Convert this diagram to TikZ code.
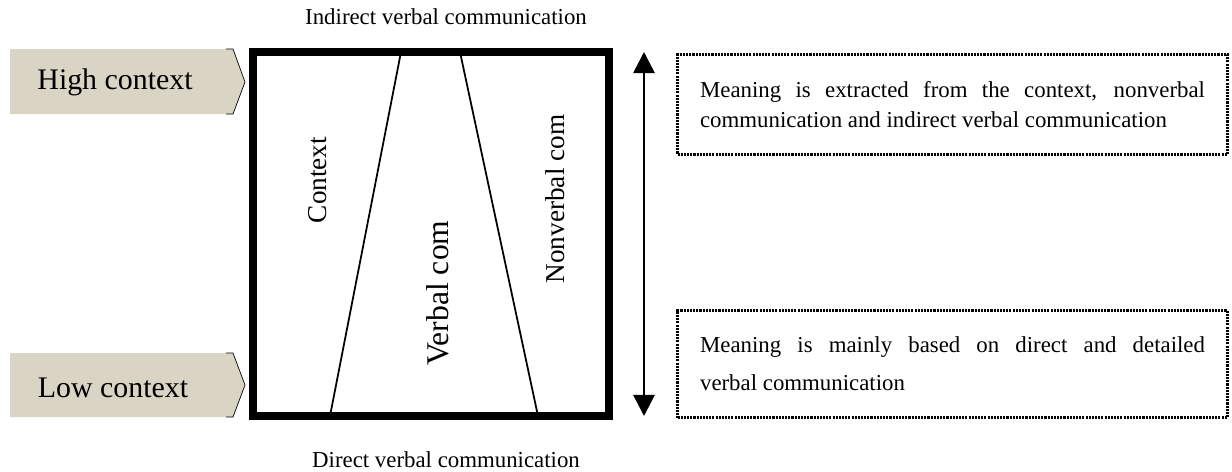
\documentclass[tikz,border=0pt]{standalone}
\usepackage{fontspec}
\setmainfont{Liberation Serif}
\usetikzlibrary{arrows.meta,calc}
\definecolor{tagfill}{RGB}{217,212,195}
\tikzset{
    >=Stealth,
    ctx/.style={
        tag/.append style={font=\fontsize{17}{20}\selectfont,anchor=center},
        side/.append style={font=\fontsize{15.5}{18}\selectfont,rotate=90},
        mid/.append style={font=\fontsize{18}{21}\selectfont,rotate=90},
        edgetext/.append style={font=\fontsize{13}{15}\selectfont,inner sep=1pt},
        note/.append style={draw,line width=1.8pt,dash pattern=on 1.2pt off 0.6pt,anchor=north west,
            inner xsep=0.45cm,inner ysep=0pt,align=justify,text width=10.1cm},
        frame/.append style={line width=4.5pt},
        split/.append style={line width=1pt}
    }
}

\begin{document}
\begin{tikzpicture}[ctx,x=0.02cm,y=-0.02cm]
    \useasboundingbox (0,0) rectangle (1232,471);

    % left tags
    \fill[tagfill] (10,49) -- (233,49) -- (245,82) -- (233,114) -- (10,114) -- cycle;
    \draw[thin] (226,49) -- (233,49) -- (245,82) -- (233,114) -- (226,114);
    \node[tag] (high) at (115,82) {High context};
    \fill[tagfill] (10,353) -- (233,353) -- (245,385) -- (233,417) -- (10,417) -- cycle;
    \draw[thin] (226,353) -- (233,353) -- (245,385) -- (233,417) -- (226,417);
    \node[tag] (low) at (113,388) {Low context};

    % frame
    \coordinate (tl) at (253,52);
    \coordinate (br) at (609,416);
    \draw[frame] (tl) rectangle (br);
    \coordinate (a1) at (401,52);
    \coordinate (a2) at (330,416);
    \coordinate (b1) at (460,52);
    \coordinate (b2) at (538,416);
    \draw[split] (a1) -- (a2) (b1) -- (b2);
    \node[side] (cx) at (318,180) {Context};
    \node[mid] (vc) at (438,293) {Verbal com};
    \node[side] (nv) at (555,199) {Nonverbal com};

    \node[edgetext] (top) at (446,17) {Indirect verbal communication};
    \node[edgetext] (bot) at (446,460) {Direct verbal communication};

    % arrow
    \coordinate (up) at (644,52);
    \coordinate (dn) at (644,416);
    \draw[{Triangle[length=12pt,width=12pt]}-{Triangle[length=12pt,width=12pt]},line width=1.6pt] (up) -- (dn);

    % notes
    \node[note,minimum height=2.0cm,font=\fontsize{13}{17}\selectfont] (n1) at (676,53)
        {Meaning is extracted from the context, nonverbal\linebreak communication and indirect verbal communication};
    \node[note,minimum height=2.14cm,font=\fontsize{13}{21.6}\selectfont] (n2) at (676,309)
        {Meaning is mainly based on direct and detailed\linebreak verbal communication};
\end{tikzpicture}
\end{document}
